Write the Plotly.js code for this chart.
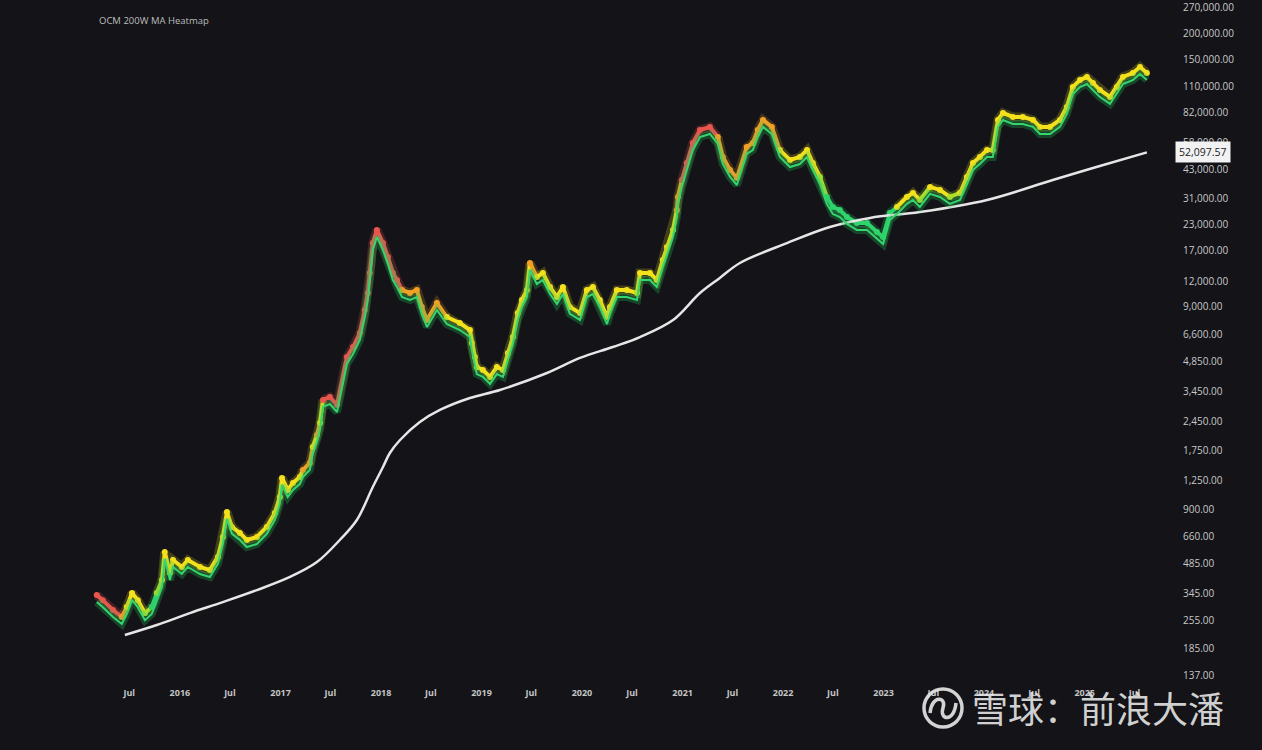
<!DOCTYPE html>
<html>
<head>
<meta charset="utf-8">
<script src="https://cdn.plot.ly/plotly-3.0.1.min.js"></script>
<style>
html,body{margin:0;padding:0;background:#131318;}
#chart{width:1262px;height:750px;}
</style>
</head>
<body>
<div id="chart"></div>
<script>
// ---- Data ----
const priceDates = [
'2015-03-05','2015-03-27','2015-05-03','2015-06-04','2015-06-22','2015-07-11','2015-08-01','2015-08-27','2015-09-21','2015-10-09',
'2015-10-28','2015-11-07','2015-11-26','2015-12-07','2016-01-08','2016-01-30','2016-03-14','2016-04-19','2016-05-18','2016-06-05',
'2016-06-20','2016-07-08','2016-08-06','2016-08-31','2016-10-07','2016-11-12','2016-12-11','2016-12-29','2017-01-06','2017-01-27',
'2017-02-15','2017-03-12','2017-03-23','2017-04-17','2017-04-28','2017-05-13','2017-05-24','2017-06-04','2017-06-29','2017-07-25',
'2017-08-30','2017-09-21','2017-10-16','2017-11-03','2017-11-14','2017-11-21','2017-12-02','2017-12-17','2018-01-08','2018-01-26',
'2018-02-13','2018-02-28','2018-03-18','2018-04-16','2018-05-11','2018-05-29','2018-06-17','2018-07-23','2018-08-28','2018-10-14',
'2018-11-20','2018-11-27','2018-12-08','2018-12-15','2019-01-06','2019-02-01','2019-02-26','2019-03-20','2019-04-07','2019-04-25',
'2019-05-13','2019-05-28','2019-06-15','2019-06-26','2019-07-21','2019-08-12','2019-09-07','2019-10-02','2019-10-24','2019-11-18',
'2019-12-25','2020-01-19','2020-02-10','2020-03-06','2020-04-01','2020-04-12','2020-05-07','2020-06-12','2020-07-19','2020-07-30',
'2020-09-04','2020-09-29','2020-10-21','2020-11-05','2020-11-27','2020-12-11','2020-12-15','2020-12-29','2021-01-16','2021-02-07',
'2021-03-05','2021-04-10','2021-05-09','2021-05-27','2021-06-22','2021-07-17','2021-08-22','2021-09-13','2021-10-01','2021-10-20',
'2021-11-21','2021-12-20','2022-01-26','2022-03-03','2022-03-29','2022-04-19','2022-05-15','2022-06-09','2022-07-01','2022-07-26',
'2022-08-21','2022-09-26','2022-11-02','2022-12-08','2022-12-30','2023-01-24','2023-02-19','2023-03-27','2023-04-18','2023-05-13',
'2023-06-19','2023-07-25','2023-08-30','2023-10-06','2023-10-31','2023-11-22','2023-12-17','2024-01-12','2024-02-02','2024-02-21',
'2024-03-10','2024-04-15','2024-05-21','2024-06-27','2024-07-22','2024-08-28','2024-10-03','2024-10-28','2024-11-19','2024-12-15',
'2025-01-09','2025-01-31','2025-02-25','2025-04-03','2025-04-28','2025-05-20','2025-06-25','2025-07-21','2025-08-15'
];
const priceValues = [
340,321,287,265,297,348,321,277,297,348,
404,555,437,507,468,507,468,452,525,658,
874,738,689,636,658,738,865,1038,1288,1123,
1216,1301,1409,1527,1832,2099,2405,3125,3230,2951,
5093,5702,6683,8686,10540,13220,18580,21570,18580,15850,
13220,12210,10900,10540,10900,8995,7745,9400,8017,7490,
6918,5970,5093,4540,4393,4058,4540,4393,5323,6383,
8395,9730,10900,14820,12640,13220,11270,10070,11270,8995,
8395,10900,11270,9730,8017,8995,10900,10900,10540,13220,
13220,12210,15350,17780,21570,27060,31390,38040,46150,57940,
67160,69500,62050,49420,42660,38930,55360,57940,67160,75340,
69500,53460,47750,49420,53460,46150,39360,31390,28000,27060,
25000,23350,23350,21090,19910,26140,28000,31390,32840,30330,
35180,33980,31390,32840,39360,46150,49420,53460,53460,75340,
81470,77880,77880,75340,69500,69500,75340,87300,109500,118500,
122700,114600,105900,97800,109500,122700,128300,137400,128300
];
// heat level: 0 green, 1 yellow-green, 2 yellow, 3 orange, 4 red
const heatLevel = [
4,4,4,3,2,2,2,1,0,1,
2,2,2,2,2,2,2,2,2,2,
2,2,2,2,2,2,2,2,2,2,
2,2,3,3,2,3,2,4,4,4,
4,4,4,4,4,4,4,4,4,4,
4,4,3,3,3,3,3,3,2,2,
2,2,2,2,2,2,2,2,2,2,
2,2,2,3,2,2,2,2,2,2,
2,2,2,2,2,2,2,2,2,2,
2,2,2,2,2,3,3,4,4,4,
4,4,3,3,3,3,3,3,3,3,
3,2,2,2,2,2,1,0,0,0,
0,0,0,0,0,0,2,2,2,1,
2,2,1,2,2,2,2,2,2,2,
2,2,2,2,2,2,2,2,2,2,
2,2,2,2,2,2,2,2,2
];
const maDates = [
'2015-06-15','2015-10-09','2016-02-06','2016-06-05','2016-10-07','2017-02-04','2017-05-13','2017-08-04','2017-10-05','2017-12-02',
'2018-01-08','2018-02-02','2018-03-11','2018-05-22','2018-08-03','2018-11-20','2019-03-09','2019-08-27','2019-12-25','2020-04-22',
'2020-07-30','2020-11-27','2021-03-05','2021-05-16','2021-07-28','2022-01-15','2022-06-20','2022-11-13','2023-05-13','2024-01-12',
'2024-09-07','2025-02-25','2025-08-15'
];
const maValues = [
216,242,277,314,360,418,495,636,798,1161,
1458,1710,1982,2432,2788,3194,3499,4245,5035,5702,
6383,7745,10540,12500,14820,18580,22300,24720,26430,30330,
38040,44600,52097.57
];
const yTickValues = [137,185,255,345,485,660,900,1250,1750,2450,3450,4850,6600,9000,12000,17000,23000,31000,43000,58000,82000,110000,150000,200000,270000];
const xTickDates = ['2015-07-01','2016-01-01','2016-07-01','2017-01-01','2017-07-01','2018-01-01','2018-07-01','2019-01-01','2019-07-01','2020-01-01','2020-07-01','2021-01-01','2021-07-01','2022-01-01','2022-07-01','2023-01-01','2023-07-01','2024-01-01','2024-07-01','2025-01-01','2025-07-01'];
const xTickLabels = ['Jul','2016','Jul','2017','Jul','2018','Jul','2019','Jul','2020','Jul','2021','Jul','2022','Jul','2023','Jul','2024','Jul','2025','Jul'];
const chartTitle = 'OCM 200W MA Heatmap';
const watermark = '雪球：前浪大潘';

// ---- Styling ----
const heatColors = ['#2fd46c','#a9e02e','#f3e11c','#f2a126','#e8564d'];
const bg = '#131318';

const traces = [];
// green price line (drawn slightly offset below on an overlay axis), with glow
traces.push({x:priceDates,y:priceValues,type:'scatter',mode:'lines',yaxis:'y2',
  line:{color:'rgba(40,200,90,0.28)',width:8,shape:'linear'},hoverinfo:'skip',showlegend:false});
traces.push({x:priceDates,y:priceValues,type:'scatter',mode:'lines',yaxis:'y2',
  line:{color:'#34d46e',width:2},hoverinfo:'skip',showlegend:false});

// colored heat segments
let start = 0;
const runs = [];
for (let i = 1; i <= heatLevel.length; i++) {
  if (i === heatLevel.length || heatLevel[i] !== heatLevel[start]) {
    runs.push([start, Math.min(i, heatLevel.length - 1), heatLevel[start]]);
    start = i;
  }
}
runs.forEach(([a, b, h]) => {
  const xs = priceDates.slice(a, b + 1), ys = priceValues.slice(a, b + 1);
  traces.push({x:xs,y:ys,type:'scatter',mode:'lines',line:{color:heatColors[h],width:9},opacity:0.22,hoverinfo:'skip',showlegend:false});
});
runs.forEach(([a, b, h]) => {
  const xs = priceDates.slice(a, b + 1), ys = priceValues.slice(a, b + 1);
  traces.push({x:xs,y:ys,type:'scatter',mode:'lines',line:{color:heatColors[h],width:4},hoverinfo:'skip',showlegend:false});
});
traces.push({x:priceDates,y:priceValues,type:'scatter',mode:'markers',
  marker:{size:6,color:heatLevel.map(h => heatColors[h])},hoverinfo:'skip',showlegend:false});

// 200W MA
traces.push({x:maDates,y:maValues,type:'scatter',mode:'lines',
  line:{color:'#e6e6e6',width:2.5,shape:'spline',smoothing:1},hoverinfo:'skip',showlegend:false});

// decoration helpers (page pixels -> paper coords)
const PL = 20, PW = 1150, PT = 0, PH = 680;
const px = v => (v - PL) / PW;
const py = v => (PT + PH - v) / PH;

const maLast = maValues[maValues.length - 1];
const fmt = v => v.toLocaleString('en-US',{minimumFractionDigits:2,maximumFractionDigits:2});

const layout = {
  width:1262, height:750,
  paper_bgcolor:bg, plot_bgcolor:bg,
  margin:{l:PL, r:1262 - PL - PW, t:PT, b:750 - PT - PH},
  showlegend:false,
  font:{family:'Open Sans, sans-serif'},
  xaxis:{type:'date',range:['2014-05-30','2025-11-07'],showgrid:false,zeroline:false,showline:false,
    tickvals:xTickDates,ticktext:xTickLabels,ticks:'outside',ticklen:4,tickcolor:'rgba(0,0,0,0)',
    tickfont:{size:9,color:'#c4c4c4',weight:'bold'}},
  yaxis:{type:'log',range:[2.1125,5.4688],side:'right',showgrid:false,zeroline:false,showline:false,
    tickvals:yTickValues,ticktext:yTickValues.map(fmt),ticks:'outside',ticklen:10,tickcolor:'rgba(0,0,0,0)',
    tickfont:{size:10,color:'#c8c8c8'}},
  yaxis2:{type:'log',range:[2.147,5.5033],overlaying:'y',side:'right',visible:false},
  annotations:[
    {text:chartTitle,xref:'paper',yref:'paper',x:px(97),y:py(20),xanchor:'left',yanchor:'middle',showarrow:false,
     font:{size:9.5,color:'#bdbdbd'}},
    {text:fmt(maLast),xref:'paper',yref:'y',x:px(1175),y:Math.log10(maLast),xanchor:'left',yanchor:'middle',showarrow:false,
     bgcolor:'#f2f2f2',borderpad:3,font:{size:10.5,color:'#222'}},
    {text:watermark,xref:'paper',yref:'paper',x:px(970),y:py(707),xanchor:'left',yanchor:'middle',showarrow:false,
     font:{family:'Noto Sans CJK SC, sans-serif',size:36,color:'rgba(228,228,228,0.92)'}}
  ],
  shapes:[
    {type:'circle',xref:'paper',yref:'paper',x0:px(924),x1:px(962),y0:py(727),y1:py(689),
     line:{color:'rgba(228,228,228,0.92)',width:3.5},layer:'above'},
    {type:'path',xref:'paper',yref:'paper',layer:'above',
     path:`M ${px(930)},${py(713)} C ${px(932)},${py(694)} ${px(947)},${py(697)} ${px(943)},${py(708)} C ${px(939)},${py(720)} ${px(954)},${py(723)} ${px(956)},${py(703)}`,
     line:{color:'rgba(228,228,228,0.92)',width:3.5}}
  ]
};

Plotly.newPlot('chart', traces, layout, {displayModeBar:false, staticPlot:true});
</script>
</body>
</html>
